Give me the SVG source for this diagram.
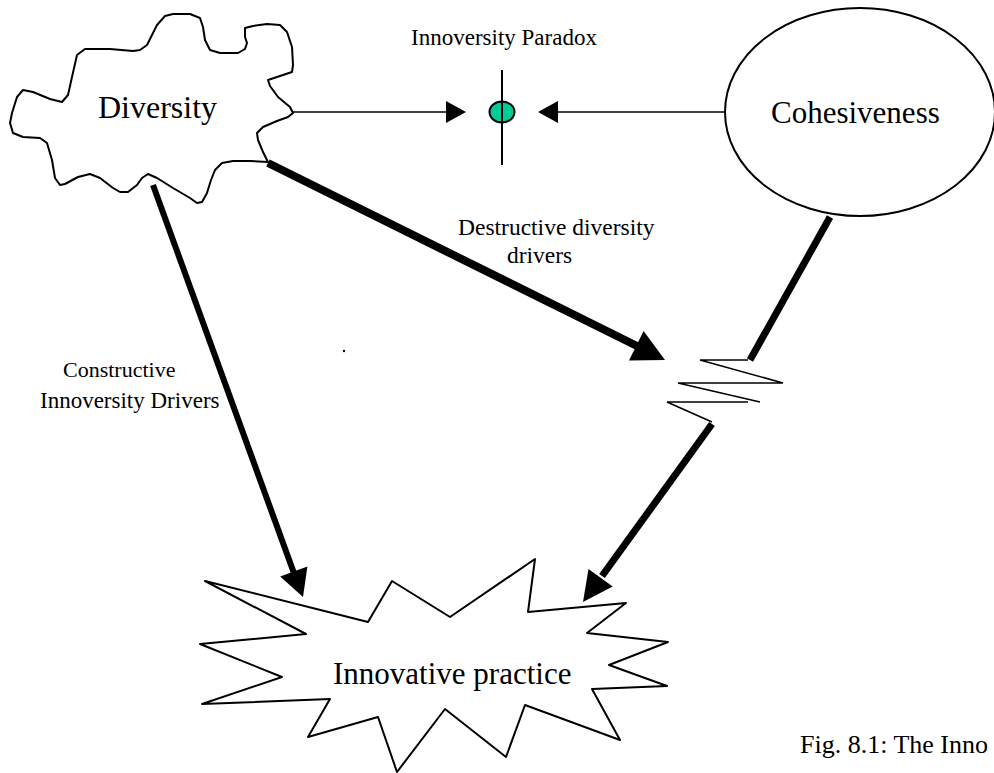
<svg xmlns="http://www.w3.org/2000/svg" width="994" height="773" viewBox="0 0 994 773">
  <style>
    .outline { fill: #ffffff; stroke: #000000; stroke-width: 2; stroke-linejoin: round; }
    .thin { fill: none; stroke: #000000; stroke-width: 1.6; }
    .thick { fill: none; stroke: #000000; stroke-linecap: butt; }
    .head { fill: #000000; stroke: none; }
    .big { font-family: "Liberation Serif", "Times New Roman", serif; font-size: 31px; fill: #000000; }
    .mid { font-family: "Liberation Serif", "Times New Roman", serif; font-size: 23px; fill: #000000; }
    .small { font-family: "Liberation Serif", "Times New Roman", serif; font-size: 22px; fill: #000000; }
  </style>
  <rect x="0" y="0" width="994" height="773" fill="#ffffff"/>

  <!-- Diversity cloud -->
  <g id="diversity">
    <polygon class="outline" points="85,49 110,49 133,51 140,50 147,45 157,25 165,16 173,14 190,14 200,18 203,27 205,40 210,50 220,53 238,53 245,49 247,43 245,37 245,28 253,26 267,24 280,25 287,32 292,47 293,65 292,72 280,76 268,80 270,86 278,97 290,107 293,113 288,117 277,121 263,127 257,133 258,140 263,152 268,162 250,161 233,161 222,163 215,170 211,180 207,193 202,202 197,203 190,198 173,188 157,178 148,174 142,178 137,185 128,192 120,192 113,188 100,178 90,174 78,177 65,184 60,185 55,178 52,160 47,143 40,138 23,137 13,133 10,123 12,113 17,97 23,90 33,92 50,99 62,102 68,95 72,77 77,55"/>
    <text class="big" x="98" y="118" style="font-size:32px">Diversity</text>
  </g>

  <!-- Cohesiveness ellipse -->
  <g id="cohesiveness">
    <ellipse class="outline" cx="860" cy="112" rx="135" ry="104"/>
    <text class="big" x="771" y="123">Cohesiveness</text>
  </g>

  <!-- Paradox point -->
  <g id="paradox">
    <text class="mid" x="504" y="45" text-anchor="middle">Innoversity Paradox</text>
    <ellipse cx="502" cy="112" rx="12.5" ry="10.5" fill="#00cc99" stroke="#000000" stroke-width="2"/>
    <line x1="502" y1="70" x2="502" y2="165" stroke="#000000" stroke-width="2"/>
  </g>

  <!-- Innovative practice starburst -->
  <g id="innovative-practice">
    <polygon class="outline" points="205,581 368,622 392,581 450,617 535,559 528,612 626,603 587,633 668,642 609,665 667,686 592,689 620,740 525,705 506,757 445,709 397,772 378,717 308,737 330,699 202,704 282,677 200,644 306,634"/>
    <text class="big" x="333" y="684">Innovative practice</text>
  </g>

  <!-- Break in the cohesiveness link -->
  <g id="break">
    <path class="thin" d="M700,360 H748 M700,360 L783,383 H678 L760,402 M748,402 H667 L712,422"/>
  </g>

  <!-- Connectors -->
  <g id="connectors">
    <!-- thin arrows into the paradox point -->
    <line class="thin" x1="293" y1="112" x2="448" y2="112"/>
    <polygon class="head" points="446,101 466,112 446,123"/>
    <line class="thin" x1="556" y1="112" x2="725" y2="112"/>
    <polygon class="head" points="558,101 538,112 558,123"/>

    <!-- destructive drivers -->
    <line class="thick" stroke-width="8" x1="268" y1="163" x2="639" y2="347"/>
    <polygon class="head" points="665,360 629,360.6 643.6,331"/>

    <!-- cohesiveness down to the break -->
    <line class="thick" stroke-width="7" x1="830" y1="217" x2="750" y2="360"/>

    <!-- constructive drivers -->
    <line class="thick" stroke-width="6" x1="153" y1="185" x2="295" y2="576"/>
    <polygon class="head" points="303,597 280.2,576.6 307.4,566.6"/>

    <!-- from the break into innovative practice -->
    <line class="thick" stroke-width="7" x1="712" y1="424" x2="602" y2="576"/>
    <polygon class="head" points="583,602 588.5,568.9 612.7,586.5"/>
  </g>

  <!-- Labels -->
  <g id="labels">
    <text class="mid" x="458" y="235" style="font-size:23.5px">Destructive diversity</text>
    <text class="mid" x="507" y="263" style="font-size:23.5px">drivers</text>
    <text class="small" x="63" y="377">Constructive</text>
    <text class="small" x="40" y="408" style="font-size:23px">Innoversity Drivers</text>
    <circle cx="344" cy="351" r="1.2" fill="#000000"/>
    <text class="mid" x="800" y="753" style="font-size:26px">Fig. 8.1: The Inno</text>
  </g>
</svg>
